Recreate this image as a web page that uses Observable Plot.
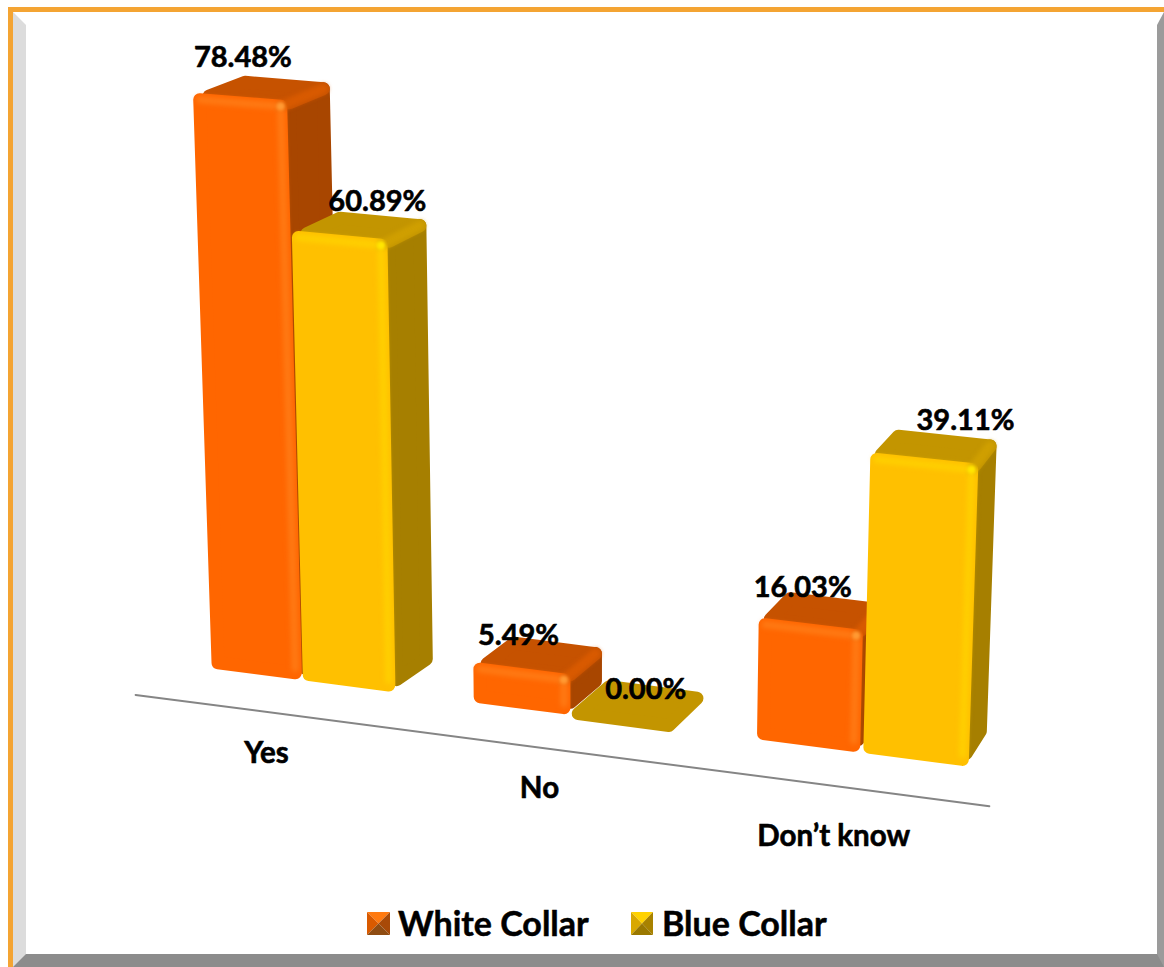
<!DOCTYPE html>
<html>
<head>
<meta charset="utf-8">
<script src="https://cdn.jsdelivr.net/npm/d3@7"></script>
<script src="https://cdn.jsdelivr.net/npm/@observablehq/plot@0.6"></script>
<style>
  html, body { margin: 0; padding: 0; background: #fff; }
  body { position: relative; width: 1164px; height: 967px; overflow: hidden; font-family: Lato, sans-serif; }
  .rim { position: absolute; left: 8px; top: 7px; width: 1156px; height: 960px; box-sizing: border-box;
         border-top: 5px solid #f4a433; border-left: 5px solid #f4a433; }
  .bevel { position: absolute; left: 0; top: 0; right: 0; bottom: 0; box-sizing: border-box; background: #fff;
           border-style: solid; border-width: 13px 7px 13px 13px;
           border-color: #fff #9b9b9b #8c8c8c #dcdcdc; }
  #chart { position: absolute; left: 0; top: 0; }
  #chart svg { background: transparent; display: block; }
  .legend { position: absolute; top: 902px; font-size: 34px; font-weight: 700; color: #000; line-height: 42px; white-space: nowrap;
            -webkit-text-stroke: 0.5px #000; }
  .legend svg { position: absolute; left: -31px; top: 10px; }
</style>
</head>
<body>
<div class="rim"><div class="bevel"></div></div>
<div id="chart"></div>
<div class="legend" style="left:398px" id="legend-white"></div>
<div class="legend" style="left:662px" id="legend-blue"></div>
<script>
// Survey responses by collar group
const categories = ["Yes", "No", "Don’t know"];
const seriesNames = ["White Collar", "Blue Collar"];
const whiteCollar = [78.48, 5.49, 16.03];
const blueCollar = [60.89, 0, 39.11];

// Shades of each series: front, top and side faces, bevel and corner glints
const palette = {
  "White Collar": {front: "#ff6600", top: "#c65200", side: "#a84600", bevel: "#ff7a14", topBevel: "#d85a00", glint: "#ff9a33"},
  "Blue Collar": {front: "#ffc000", top: "#c39500", side: "#a67f00", bevel: "#ffcf00", topBevel: "#cf9f00", glint: "#ffe600"}
};

// Scale units: one bar slot across, one percentage point up
const pxPerSlot = 89.6;
const pxPerPoint = 7.34;
const slotGrowth = 1.35;         // bars widen toward the viewer
const floorSlope = 0.1304;       // fall of the floor from left to right
const depthVanish = [1278, 741]; // where depth edges converge
const riseVanish = [384, -11622]; // where vertical edges converge
const barDepth = 0.041;
const labelDepth = 0.038;
const gapSlots = 0.8;

// Perspective projection of (slot, depth, percent) into scale units
function project(u, d, h) {
  const fx = pxPerSlot * u + slotGrowth * u * u;
  const fy = -floorSlope * fx;
  const gx = fx + d * (depthVanish[0] - fx);
  const gy = fy + d * (1 - 0.0055 * h) * (depthVanish[1] - fy);
  const f = h * (pxPerPoint / -riseVanish[1]) * (1 + 0.00009 * gx);
  return [
    (gx + (gx - riseVanish[0]) * f) / pxPerSlot,
    (gy + (gy - riseVanish[1]) * f) / pxPerPoint
  ];
}

// One record per bar, flat bars first so standing ones sit over them
const bars = categories.flatMap((category, i) => {
  const start = i * (2 + gapSlots);
  const pair = [
    {category, name: seriesNames[0], value: whiteCollar[i], u: start},
    {category, name: seriesNames[1], value: blueCollar[i], u: start + 1}
  ];
  return pair.sort((a, b) => (a.value === 0 ? -1 : 0) - (b.value === 0 ? -1 : 0));
});

const insetU = 0.075, insetH = 0.9, insetD = 0.007;

function polygon(id, fill, points) {
  return points.map(([u, d, h]) => {
    const [x, y] = project(u, d, h);
    return {id, fill, x, y};
  });
}

function barFaces(bar) {
  const c = palette[bar.name];
  const u0 = bar.u + insetU, u1 = bar.u + 1 - insetU;
  const d1 = barDepth - insetD, d0 = insetD;
  if (bar.value === 0) {
    const a = bar.u + 0.04, b = bar.u + 0.94, back = barDepth - 0.004;
    return polygon("top", c.top, [[a, 0.003, 0], [b, 0.003, 0], [b, back, 0], [a, back, 0]]);
  }
  const low = insetH, high = bar.value - insetH;
  return [
    ...polygon("side", c.side, [[u1, d0, high], [u1, d1, high], [u1, d1, low], [u1, d0, low]]),
    ...polygon("top", c.top, [[u0, d0, high], [u1, d0, high], [u1, d1, high], [u0, d1, high]]),
    ...polygon("front", c.front, [[u0, 0, high], [u1, 0, high], [u1, 0, low], [u0, 0, low]])
  ];
}

const lineOf = (points) => points.map(([u, d, h]) => {
  const [x, y] = project(u, d, h);
  return {x, y};
});

function barMarks(bar) {
  const c = palette[bar.name];
  const marks = [Plot.line(barFaces(bar), {
    x: "x", y: "y", z: "id", fill: "fill", stroke: "fill", strokeWidth: 13,
    strokeLinejoin: "round", curve: "linear-closed"
  })];
  if (bar.value > 0) {
    const u1 = bar.u + 1 - insetU, u0 = bar.u + insetU;
    const h = bar.value - insetH;
    const foot = Math.min(1.5, bar.value / 4);
    marks.push(
      Plot.line(lineOf([[u1, 0, h], [u1, barDepth - insetD, h]]), {
        x: "x", y: "y", stroke: c.topBevel, strokeWidth: 10, strokeLinecap: "round", imageFilter: "blur(2px)"
      }),
      Plot.line(lineOf([[u0, 0, h], [u1, 0, h], [u1, 0, foot]]), {
        x: "x", y: "y", stroke: c.bevel, strokeWidth: 7, strokeLinejoin: "round", imageFilter: "blur(2.5px)"
      }),
      Plot.dot(lineOf([[u1, 0, h]]), {
        x: "x", y: "y", r: 4, fill: c.glint, imageFilter: "blur(1.5px)"
      })
    );
  }
  return marks;
}

// Offsets of the value and category captions from their anchors
const valueShift = {
  "White Collar|Yes": [-46, -19], "Blue Collar|Yes": [-7, -11],
  "White Collar|No": [-40, -3], "Blue Collar|No": [-9, -2],
  "White Collar|Don’t know": [-34, -7], "Blue Collar|Don’t know": [19, -11]
};
const categoryShift = {"Yes": [-36, 73], "No": [-32, 73], "Don’t know": [-28, 83]};

const valueLabels = bars.map((bar) => {
  const [x, y] = project(bar.u + 0.5, labelDepth, bar.value);
  const shift = valueShift[`${bar.name}|${bar.category}`];
  return {x, y, dx: shift[0], dy: shift[1], text: `${bar.value.toFixed(2)}%`};
});

const categoryLabels = categories.map((category, i) => {
  const [x, y] = project(i * (2 + gapSlots) + 1, 0, 0);
  const shift = categoryShift[category];
  return {x, y, dx: shift[0], dy: shift[1], text: category};
});

const axisRun = lineOf([[-0.267, -0.04, 0], [7.945, -0.04, 0]]);

const originX = 211, originY = 668;
const captionMarks = (rows, fontSize) => rows.map((row) =>
  Plot.text([row], {
    x: "x", y: "y", text: "text", dx: row.dx, dy: row.dy,
    fontSize, fontWeight: 700, fontFamily: "Lato, sans-serif",
    fill: "#000", stroke: "#000", strokeWidth: 0.6, textAnchor: "middle", lineAnchor: "middle"
  })
);

const plot = Plot.plot({
  width: 1164,
  height: 967,
  margin: 0,
  style: {background: "transparent"},
  color: {type: "identity"},
  x: {domain: [-originX / pxPerSlot, (1164 - originX) / pxPerSlot], range: [0, 1164], axis: null},
  y: {domain: [(originY - 967) / pxPerPoint, originY / pxPerPoint], range: [967, 0], axis: null},
  marks: [
    Plot.line(axisRun, {x: "x", y: "y", stroke: "#858585", strokeWidth: 2}),
    ...bars.flatMap(barMarks),
    ...captionMarks(valueLabels, 29),
    ...captionMarks(categoryLabels, 29.5)
  ]
});
document.getElementById("chart").append(plot);

// Legend entries with pyramid-shaded swatches
const swatchShades = {
  "White Collar": ["#ff7a10", "#d95a00", "#a84a08", "#8f4c12"],
  "Blue Collar": ["#ffd200", "#d9a800", "#a88200", "#9a7800"]
};
function legendEntry(hostId, name) {
  const host = d3.select(`#${hostId}`).text(name);
  const size = name === seriesNames[0] ? 23 : 22;
  const svg = host.append("svg").attr("width", size).attr("height", 23);
  const [t, l, r, b] = swatchShades[name];
  const w = size, h = 23, cx = w / 2, cy = h / 2;
  [[t, [[0, 0], [w, 0], [cx, cy]]], [l, [[0, 0], [0, h], [cx, cy]]],
   [r, [[w, 0], [w, h], [cx, cy]]], [b, [[0, h], [w, h], [cx, cy]]]].forEach(([fill, pts]) => {
    svg.append("polygon").attr("points", pts.join(" ")).attr("fill", fill);
  });
}
legendEntry("legend-white", seriesNames[0]);
legendEntry("legend-blue", seriesNames[1]);
</script>
</body>
</html>
